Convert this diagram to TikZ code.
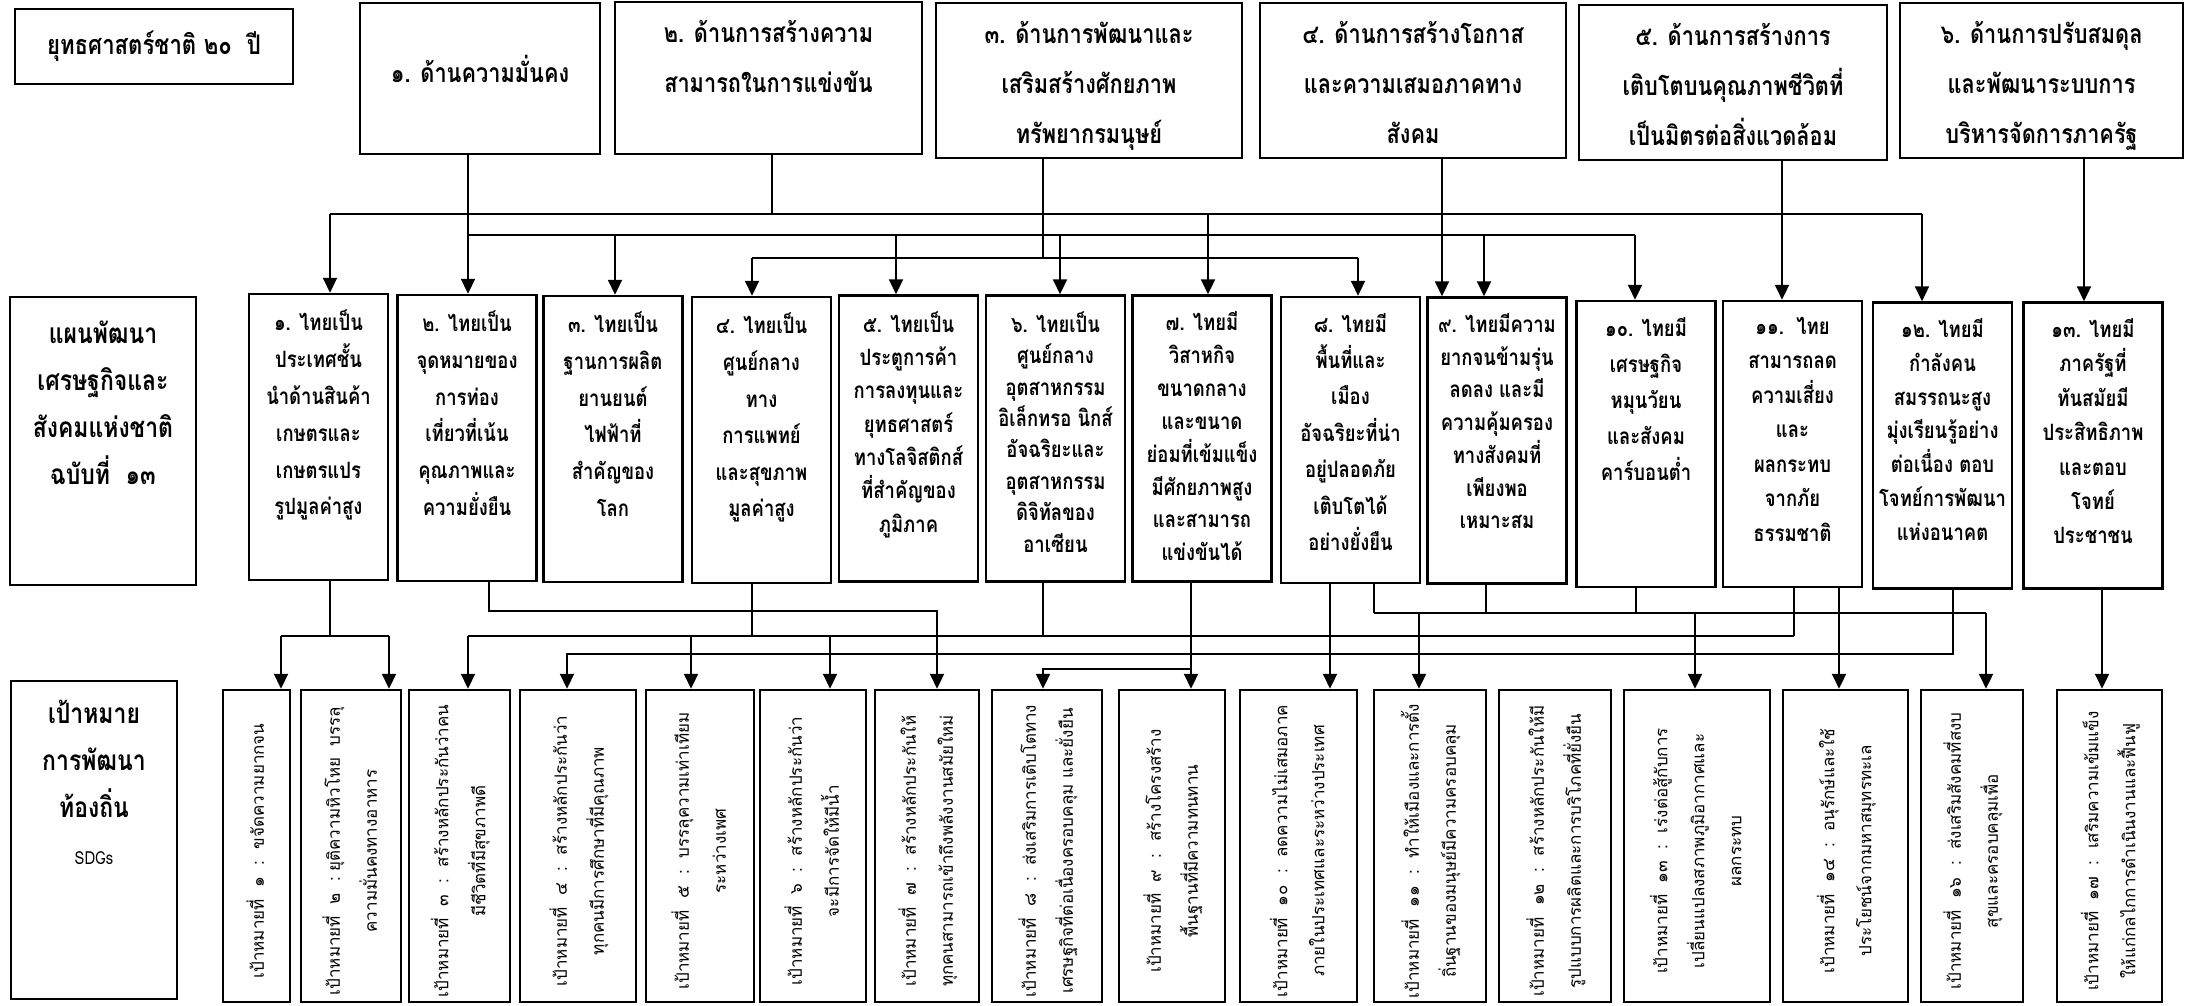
\documentclass[tikz,border=0pt]{standalone}
\usepackage{fontspec}
\usepackage{tikz}
\usepackage{xcolor}
\usetikzlibrary{arrows.meta,calc}
\newfontfamily\thaifont[Script=Thai]{Loma}
\newfontfamily\thainarrow[Script=Thai,FakeStretch=0.82]{Loma}
\newcommand{\toptext}[3]{\parbox[c][#1][t]{#2}{\centering #3}}
\newcommand{\ptext}[2][36.5]{\toptext{254pt}{136pt}{\fontsize{22.5}{#1}\selectfont #2}}
\newcommand{\gtext}[1]{\rotatebox{90}{\begin{tabular}{@{}c@{\hspace{10pt}}}#1\end{tabular}}}

\tikzset{
	ln/.style = {line width=2.2pt, draw=black},
	arr/.style = {ln, -{Triangle[length=15pt,width=14pt]}},
	box/.style = {draw=black, line width=2.5pt, inner sep=0pt, align=center},
	sbox/.style = {box, font=\thainarrow\bfseries\fontsize{26.5}{50}\selectfont},
	lbox/.style = {box, font=\thainarrow\bfseries\fontsize{28}{47}\selectfont},
	pbox/.style = {box, minimum width=139pt, minimum height=286pt, font=\thainarrow\bfseries},
	gbox/.style = {box, minimum height=312pt, font=\thaifont\fontsize{17}{37}\selectfont}
}

\begin{document}
\begin{tikzpicture}[x=1pt, y=-1pt]
		\useasboundingbox (0,0) rectangle (2186,1006);

		% strategy boxes
		\node[sbox, minimum width=278pt, minimum height=75pt, font=\thainarrow\bfseries\fontsize{27}{40}\selectfont] (title) at (154,46.5) {ยุทธศาสตร์ชาติ ๒๐~~ปี};
		\node[sbox, minimum width=240pt, minimum height=151pt] (s1) at (480,78.5) {๑. ด้านความมั่นคง\rule[-20pt]{0pt}{0pt}};
		\node[sbox, minimum width=307pt, minimum height=152pt] (s2) at (768.5,78) {\toptext{138pt}{300pt}{\rule{0pt}{34pt}๒. ด้านการสร้างความ\\ สามารถในการแข่งขัน}};
		\node[sbox, minimum width=306pt, minimum height=155pt] (s3) at (1089,80.5) {\toptext{141pt}{300pt}{\rule{0pt}{34pt}๓. ด้านการพัฒนาและ\\ เสริมสร้างศักยภาพ\\ ทรัพยากรมนุษย์}};
		\node[sbox, minimum width=306pt, minimum height=155pt] (s4) at (1413,80.5) {\toptext{141pt}{300pt}{\rule{0pt}{34pt}๔. ด้านการสร้างโอกาส\\ และความเสมอภาคทาง\\ สังคม}};
		\node[sbox, minimum width=308pt, minimum height=155pt] (s5) at (1733,82.5) {\toptext{141pt}{300pt}{\rule{0pt}{34pt}๕. ด้านการสร้างการ\\ เติบโตบนคุณภาพชีวิตที่\\ เป็นมิตรต่อสิ่งแวดล้อม}};
		\node[sbox, minimum width=283pt, minimum height=155pt] (s6) at (2041.5,80.5) {\toptext{141pt}{277pt}{\rule{0pt}{34pt}๖. ด้านการปรับสมดุล\\ และพัฒนาระบบการ\\ บริหารจัดการภาครัฐ}};

		% row labels
		\node[lbox, minimum width=186pt, minimum height=288pt] (plan) at (103,441) {\toptext{240pt}{180pt}{แผนพัฒนา\\ เศรษฐกิจและ\\ สังคมแห่งชาติ\\ ฉบับที่~~๑๓}};
		\node[lbox, minimum width=166pt, minimum height=318pt] (local) at (94,840) {\toptext{280pt}{160pt}{เป้าหมาย\\ การพัฒนา\\ ท้องถิ่น\\ {\mdseries\fontsize{18}{20}\selectfont SDGs}}};

		% plan targets
		\node[pbox] (p1) at (318.5,437) {\ptext[36.8]{๑. ไทยเป็น\\ ประเทศชั้น\\ นำด้านสินค้า\\ เกษตรและ\\ เกษตรแปร\\ รูปมูลค่าสูง}};
		\node[pbox] (p2) at (467,438) {\ptext[36.7]{๒. ไทยเป็น\\ จุดหมายของ\\ การท่อง\\ เที่ยวที่เน้น\\ คุณภาพและ\\ ความยั่งยืน}};
		\node[pbox] (p3) at (613,439) {\ptext[36.7]{๓. ไทยเป็น\\ ฐานการผลิต\\ ยานยนต์\\ ไฟฟ้าที่\\ สำคัญของ\\ โลก}};
		\node[pbox] (p4) at (761.5,440) {\ptext[36.6]{๔. ไทยเป็น\\ ศูนย์กลาง\\ ทาง\\ การแพทย์\\ และสุขภาพ\\ มูลค่าสูง}};
		\node[pbox] (p5) at (908.5,438.5) {\ptext[33.3]{๕. ไทยเป็น\\ ประตูการค้า\\ การลงทุนและ\\ ยุทธศาสตร์\\ ทางโลจิสติกส์\\ ที่สำคัญของ\\ ภูมิภาค}};
		\node[pbox] (p6) at (1055.5,438.5) {\ptext[31.4]{๖. ไทยเป็น\\ ศูนย์กลาง\\ อุตสาหกรรม\\ อิเล็กทรอ นิกส์\\ อัจฉริยะและ\\ อุตสาหกรรม\\ ดิจิทัลของ\\ อาเซียน}};
		\node[pbox] (p7) at (1202,438.5) {\ptext[32.9]{๗. ไทยมี\\ วิสาหกิจ\\ ขนาดกลาง\\ และขนาด\\ ย่อมที่เข้มแข็ง\\ มีศักยภาพสูง\\ และสามารถ\\ แข่งขันได้}};
		\node[pbox] (p8) at (1350.5,440) {\ptext[36.4]{๘. ไทยมี\\ พื้นที่และ\\ เมือง\\ อัจฉริยะที่น่า\\ อยู่ปลอดภัย\\ เติบโตได้\\ อย่างยั่งยืน}};
		\node[pbox] (p9) at (1497,440.5) {\ptext[32.7]{๙. ไทยมีความ\\ ยากจนข้ามรุ่น\\ ลดลง และมี\\ ความคุ้มครอง\\ ทางสังคมที่\\ เพียงพอ\\ เหมาะสม}};
		\node[pbox] (p10) at (1646,444) {\ptext[36]{๑๐. ไทยมี\\ เศรษฐกิจ\\ หมุนวัยน\\ และสังคม\\ คาร์บอนต่ำ}};
		\node[pbox] (p11) at (1792.5,444) {\ptext[34.5]{๑๑.~~ไทย\\ สามารถลด\\ ความเสี่ยง\\ และ\\ ผลกระทบ\\ จากภัย\\ ธรรมชาติ}};
		\node[pbox] (p12) at (1942.5,445.5) {\ptext[33.8]{๑๒. ไทยมี\\ กำลังคน\\ สมรรถนะสูง\\ มุ่งเรียนรู้อย่าง\\ ต่อเนื่อง ตอบ\\ โจทย์การพัฒนา\\ แห่งอนาคต}};
		\node[pbox] (p13) at (2093,445.5) {\ptext[34.4]{๑๓. ไทยมี\\ ภาครัฐที่\\ ทันสมัยมี\\ ประสิทธิภาพ\\ และตอบ\\ โจทย์\\ ประชาชน}};

		% local goals (SDGs)
		\node[gbox, minimum width=67pt] (g1) at (256.5,846) {\gtext{เป้าหมายที่~~๑~~:~~ขจัดความยากจน}};
		\node[gbox, minimum width=100pt] (g2) at (351,846) {\gtext{เป้าหมายที่~~๒~~:~ยุติความหิวโหย~~บรรลุ\\ ความมั่นคงทางอาหาร}};
		\node[gbox, minimum width=101pt] (g3) at (459.5,846) {\gtext{เป้าหมายที่~~๓~~:~~สร้างหลักประกันว่าคน\\ มีชีวิตที่มีสุขภาพดี}};
		\node[gbox, minimum width=116pt] (g4) at (578,846) {\gtext{เป้าหมายที่~~๔~~:~~สร้างหลักประกันว่า\\ ทุกคนมีการศึกษาที่มีคุณภาพ}};
		\node[gbox, minimum width=108pt] (g5) at (700,846) {\gtext{เป้าหมายที่~~๕~~:~~บรรลุความเท่าเทียม\\ ระหว่างเพศ}};
		\node[gbox, minimum width=106pt] (g6) at (813,846) {\gtext{เป้าหมายที่~~๖~~:~~สร้างหลักประกันว่า\\ จะมีการจัดให้มีน้ำ}};
		\node[gbox, minimum width=104pt] (g7) at (927,846) {\gtext{เป้าหมายที่~~๗~~:~~สร้างหลักประกันให้\\ ทุกคนสามารถเข้าถึงพลังงานสมัยใหม่}};
		\node[gbox, minimum width=110pt] (g8) at (1047,846) {\gtext{เป้าหมายที่~~๘~~:~~ส่งเสริมการเติบโตทาง\\ เศรษฐกิจที่ต่อเนื่องครอบคลุม และยั่งยืน}};
		\node[gbox, minimum width=106pt] (g9) at (1172,846) {\gtext{เป้าหมายที่~~๙~~:~~สร้างโครงสร้าง\\ พื้นฐานที่มีความทนทาน}};
		\node[gbox, minimum width=117pt] (g10) at (1298.5,846) {\gtext{เป้าหมายที่~~๑๐~~:~~ลดความไม่เสมอภาค\\ ภายในประเทศและระหว่างประเทศ}};
		\node[gbox, minimum width=112pt] (g11) at (1430,846) {\gtext{เป้าหมายที่~~๑๑~~:~~ทำให้เมืองและการตั้ง\\ ถิ่นฐานของมนุษย์มีความครอบคลุม}};
		\node[gbox, minimum width=112pt] (g12) at (1555,846) {\gtext{เป้าหมายที่~~๑๒~~:~~สร้างหลักประกันให้มี\\ รูปแบบการผลิตและการบริโภคที่ยั่งยืน}};
		\node[gbox, minimum width=146pt] (g13) at (1697,846) {\gtext{เป้าหมายที่~~๑๓~~:~~เร่งต่อสู้กับการ\\ เปลี่ยนแปลงสภาพภูมิอากาศและ\\ ผลกระทบ}};
		\node[gbox, minimum width=125pt] (g14) at (1845.5,846) {\gtext{เป้าหมายที่~~๑๔~~:~~อนุรักษ์และใช้\\ ประโยชน์จากมหาสมุทรทะเล}};
		\node[gbox, minimum width=102pt] (g15) at (1972,846) {\gtext{เป้าหมายที่~~๑๖~~:~~ส่งเสริมสังคมที่สงบ\\ สุขและครอบคลุมเพื่อ}};
		\node[gbox, minimum width=105pt] (g16) at (2109.5,846) {\gtext{เป้าหมายที่~~๑๗~~:~~เสริมความเข้มแข็ง\\ ให้แก่กลไกการดำเนินงานและฟื้นฟู}};

		% strategies -> plan targets
		\coordinate (a1) at (468,235);
		\coordinate (a2) at (615,235);
		\coordinate (a3) at (896,235);
		\coordinate (a4) at (1060,235);
		\coordinate (a5) at (1484,235);
		\coordinate (a6) at (1635,235);
		\draw[ln] (a1) -- (a6);
		\draw[arr] (s1.south -| a1) -- (p2.north -| a1);
		\draw[arr] (a2) -- (p3.north -| a2);
		\draw[arr] (a3) -- (p5.north -| a3);
		\draw[arr] (a4) -- (p6.north -| a4);
		\draw[arr] (a5) -- (p9.north -| a5);
		\draw[arr] (a6) -- (p10.north -| a6);

		\coordinate (b1) at (330,214);
		\coordinate (b2) at (772,214);
		\coordinate (b3) at (1208,214);
		\coordinate (b4) at (1922,214);
		\draw[ln] (s2.south -| b2) -- (b2);
		\draw[ln] (b1) -- (b4);
		\draw[arr] (b1) -- (p1.north -| b1);
		\draw[arr] (b3) -- (p7.north -| b3);
		\draw[arr] (b4) -- (p12.north -| b4);

		\coordinate (c1) at (752,258);
		\coordinate (c2) at (1043,258);
		\coordinate (c3) at (1358,258);
		\draw[ln] (s3.south -| c2) -- (c2);
		\draw[ln] (c1) -- (c3);
		\draw[arr] (c1) -- (p4.north -| c1);
		\draw[arr] (c3) -- (p8.north -| c3);

		\coordinate (t4) at (1442,200);
		\coordinate (t5) at (1782,200);
		\coordinate (t6) at (2084,200);
		\draw[arr] (s4.south -| t4) -- (p9.north -| t4);
		\draw[arr] (s5.south -| t5) -- (p11.north -| t5);
		\draw[arr] (s6.south -| t6) -- (p13.north -| t6);

		% plan targets -> local goals
		\coordinate (d0) at (330,636);
		\coordinate (d1) at (281,636);
		\coordinate (d2) at (389,636);
		\draw[ln] (p1.south -| d0) -- (d0);
		\draw[ln] (d1) -- (d2);
		\draw[arr] (d1) -- (g1.north -| d1);
		\draw[arr] (d2) -- (g2.north -| d2);

		\coordinate (e0) at (489,611);
		\coordinate (e1) at (937,611);
		\draw[arr] (p2.south -| e0) |- (e1) -- (g7.north -| e1);

		\coordinate (f1) at (468,636);
		\coordinate (f2) at (691,636);
		\coordinate (f3) at (752,636);
		\coordinate (f4) at (830,636);
		\coordinate (f5) at (1043,636);
		\coordinate (f6) at (1794,636);
		\draw[ln] (f1) -- (f6);
		\draw[ln] (p4.south -| f3) -- (f3);
		\draw[ln] (p6.south -| f5) -- (f5);
		\draw[ln] (p11.south -| f6) -- (f6);
		\draw[arr] (f1) -- (g3.north -| f1);
		\draw[arr] (f2) -- (g5.north -| f2);
		\draw[arr] (f4) -- (g6.north -| f4);

		\coordinate (h1) at (567,654);
		\coordinate (h2) at (1953,654);
		\draw[arr] (p12.south -| h2) |- (h1) -- (g4.north -| h1);

		\coordinate (k1) at (1043,669);
		\coordinate (k2) at (1191,669);
		\draw[arr] (p7.south -| k2) -- (g9.north -| k2);
		\draw[arr] (k2) -- (k1) -- (g8.north -| k1);

		\coordinate (i1) at (1374,613);
		\coordinate (i2) at (1419,613);
		\coordinate (i3) at (1486,613);
		\coordinate (i4) at (1636,613);
		\coordinate (i5) at (1695,613);
		\coordinate (i6) at (1986,613);
		\draw[ln] (i1) -- (i6);
		\draw[ln] (p8.south -| i1) -- (i1);
		\draw[ln] (p9.south -| i3) -- (i3);
		\draw[ln] (p10.south -| i4) -- (i4);
		\draw[arr] (i2) -- (g11.north -| i2);
		\draw[arr] (i5) -- (g13.north -| i5);
		\draw[arr] (i6) -- (g15.north -| i6);

		\coordinate (q1) at (1330,600);
		\coordinate (q2) at (1839,600);
		\coordinate (q3) at (2102,600);
		\draw[arr] (p8.south -| q1) -- (g10.north -| q1);
		\draw[arr] (p11.south -| q2) -- (g14.north -| q2);
		\draw[arr] (p13.south -| q3) -- (g16.north -| q3);
	\end{tikzpicture}
\end{document}
